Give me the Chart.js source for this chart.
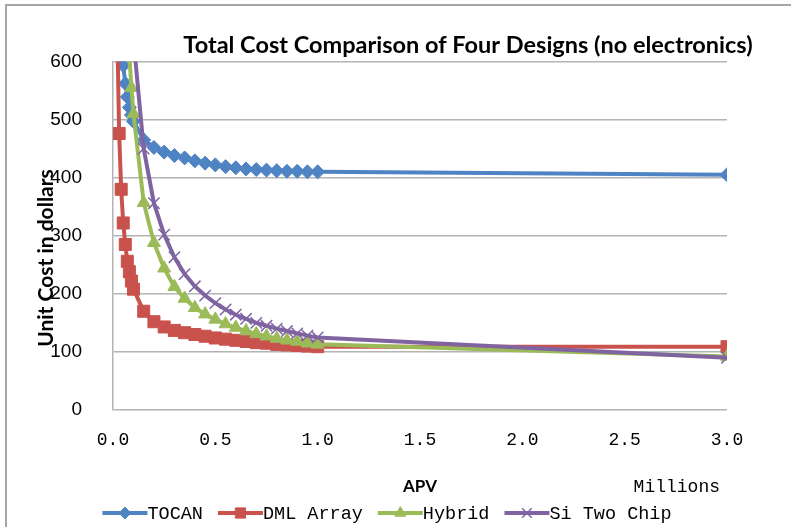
<!DOCTYPE html>
<html>
<head>
<meta charset="utf-8">
<script src="https://cdn.jsdelivr.net/npm/chart.js@4/dist/chart.umd.min.js"></script>
<style>
  html, body { margin: 0; padding: 0; background: #fff; }
  #wrap { width: 791px; height: 527px; position: relative; }
</style>
</head>
<body>
<div id="wrap"><canvas id="c" width="791" height="527"></canvas></div>
<script>
// Annual production volume, in millions of units
const apv = [0.02, 0.03, 0.04, 0.05, 0.06, 0.07, 0.08, 0.09, 0.10,
             0.15, 0.20, 0.25, 0.30, 0.35, 0.40, 0.45, 0.50, 0.55, 0.60,
             0.65, 0.70, 0.75, 0.80, 0.85, 0.90, 0.95, 1.00, 3.00];

// Unit cost in dollars for each design
const tocan = [885, 725, 643, 593, 562, 539, 521, 508, 497,
               465, 452, 444, 438, 434, 429, 425, 422, 419, 417,
               415, 414, 413, 412, 411, 411, 410, 410, 405];
const dmlArray = [668, 476, 380, 322, 285, 256, 238, 222, 208,
                  170, 152, 143, 137, 133, 130, 127, 124, 122, 120,
                  118, 116, 115, 113, 112, 111, 110, 109, 109];
const hybrid = [2240, 1500, 1140, 930, 785, 680, 608, 555, 510,
                357, 288, 244, 212, 192, 176, 165, 156, 148, 142,
                136, 131, 127, 123, 120, 118, 115, 113, 92];
const siTwoChip = [2890, 1950, 1480, 1200, 1015, 880, 780, 700, 638,
                   450, 356, 302, 263, 234, 213, 197, 184, 173, 164,
                   157, 150, 145, 140, 136, 132, 128, 125, 90];

const seriesNames = ['TOCAN', 'DML Array', 'Hybrid', 'Si Two Chip'];
const seriesValues = [tocan, dmlArray, hybrid, siTwoChip];

// Axis tick values
const xTickValues = [0, 0.5, 1.0, 1.5, 2.0, 2.5, 3.0];
const yTickValues = [0, 100, 200, 300, 400, 500, 600];

const chartTitle = 'Total Cost Comparison of Four Designs (no electronics)';
const yAxisTitle = 'Unit Cost in dollars';
const xAxisTitle = 'APV';
const xAxisUnit = 'Millions';

// Look of each series
const styles = [
  { color: '#4F84C4', pointStyle: 'rectRot',  radius: 7,   borderWidth: 1 },
  { color: '#C9524D', pointStyle: 'rect',     radius: 8.5, borderWidth: 1 },
  { color: '#9BBB59', pointStyle: 'triangle', radius: 7.5, borderWidth: 1 },
  { color: '#8064A2', pointStyle: 'crossRot', radius: 8,   borderWidth: 1.5 }
];

const datasets = seriesNames.map((name, i) => ({
  label: name,
  data: apv.map((x, j) => ({ x: x, y: seriesValues[i][j] })),
  borderColor: styles[i].color,
  backgroundColor: styles[i].color,
  borderWidth: 4,
  pointStyle: styles[i].pointStyle,
  pointRadius: styles[i].radius,
  pointBorderWidth: styles[i].borderWidth,
  pointBackgroundColor: styles[i].color,
  pointBorderColor: styles[i].color,
  showLine: true,
  tension: 0,
  // later series are painted over earlier ones
  order: seriesNames.length - i
}));

const monoFont = '"Liberation Mono", "DejaVu Sans Mono", monospace';
const boldSans = 'Lato, "Open Sans", sans-serif';

// Outer frame of the chart area
const framePlugin = {
  id: 'frame',
  beforeDraw(chart) {
    const ctx = chart.ctx;
    ctx.save();
    ctx.fillStyle = '#fff';
    ctx.fillRect(0, 0, chart.width, chart.height);
    ctx.strokeStyle = '#a6a6a6';
    ctx.lineWidth = 2;
    ctx.beginPath();
    ctx.moveTo(6, chart.height);
    ctx.lineTo(6, 5);
    ctx.lineTo(chart.width, 5);
    ctx.stroke();
    ctx.restore();
  }
};

// Titles, unit label and the legend row
const textPlugin = {
  id: 'texts',
  afterDraw(chart) {
    const ctx = chart.ctx;
    const area = chart.chartArea;
    ctx.save();
    ctx.fillStyle = '#000';
    ctx.textBaseline = 'middle';

    ctx.font = 'bold 23.5px ' + boldSans;
    ctx.textAlign = 'center';
    ctx.fillText(chartTitle, 468, 45);

    ctx.save();
    ctx.translate(46, 258);
    ctx.rotate(-Math.PI / 2);
    ctx.font = 'bold 21px ' + boldSans;
    ctx.fillText(yAxisTitle, 0, 0);
    ctx.restore();

    ctx.font = 'bold 17px ' + boldSans;
    ctx.fillText(xAxisTitle, (area.left + area.right) / 2, 487);

    ctx.font = '18px ' + monoFont;
    ctx.textAlign = 'right';
    ctx.fillText(xAxisUnit, 720, 487);

    // legend
    const legendY = 513;
    const swatch = 45;
    const gap = 15;
    ctx.font = '18.5px ' + monoFont;
    const widths = seriesNames.map(n => ctx.measureText(n).width);
    const total = widths.reduce((a, w) => a + swatch + w, 0) + gap * (seriesNames.length - 1);
    let x = 387 - total / 2;
    ctx.textAlign = 'left';
    seriesNames.forEach((name, i) => {
      const st = styles[i];
      ctx.strokeStyle = st.color;
      ctx.lineWidth = 4;
      ctx.beginPath();
      ctx.moveTo(x, legendY);
      ctx.lineTo(x + swatch, legendY);
      ctx.stroke();
      ctx.fillStyle = st.color;
      ctx.strokeStyle = st.color;
      ctx.lineWidth = st.borderWidth;
      Chart.helpers.drawPoint(ctx, {
        pointStyle: st.pointStyle, radius: st.radius * 0.85, rotation: 0, borderWidth: st.borderWidth
      }, x + swatch / 2, legendY);
      ctx.fillStyle = '#000';
      ctx.fillText(name, x + swatch, legendY + 1);
      x += swatch + widths[i] + gap;
    });
    ctx.restore();
  }
};

new Chart(document.getElementById('c'), {
  type: 'scatter',
  data: { datasets: datasets },
  options: {
    responsive: false,
    animation: false,
    devicePixelRatio: 1,
    layout: { padding: { left: 0, top: 61.5, right: 64, bottom: 0 } },
    plugins: {
      legend: { display: false },
      title: { display: false },
      tooltip: { enabled: false }
    },
    scales: {
      x: {
        type: 'linear',
        min: 0,
        max: 3,
        afterFit(scale) { scale.height = 117; },
        afterBuildTicks(scale) { scale.ticks = xTickValues.map(v => ({ value: v })); },
        grid: { display: false, drawTicks: false },
        border: { display: false },
        ticks: {
          padding: 19,
          color: '#000',
          font: { family: monoFont, size: 18 },
          callback: v => Number(v).toFixed(1)
        }
      },
      y: {
        type: 'linear',
        min: 0,
        max: 600,
        afterFit(scale) { scale.width = 113; },
        afterBuildTicks(scale) { scale.ticks = yTickValues.map(v => ({ value: v })); },
        grid: { color: '#b4b4b4', lineWidth: 1.5, drawTicks: false },
        border: { display: true, color: '#b4b4b4', width: 1.5 },
        ticks: {
          padding: 31,
          color: '#000',
          font: { family: '"Liberation Sans Narrow", "Liberation Sans", Arial, sans-serif', size: 19 },
          callback: v => String(v)
        }
      }
    }
  },
  plugins: [framePlugin, textPlugin]
});
</script>
</body>
</html>
